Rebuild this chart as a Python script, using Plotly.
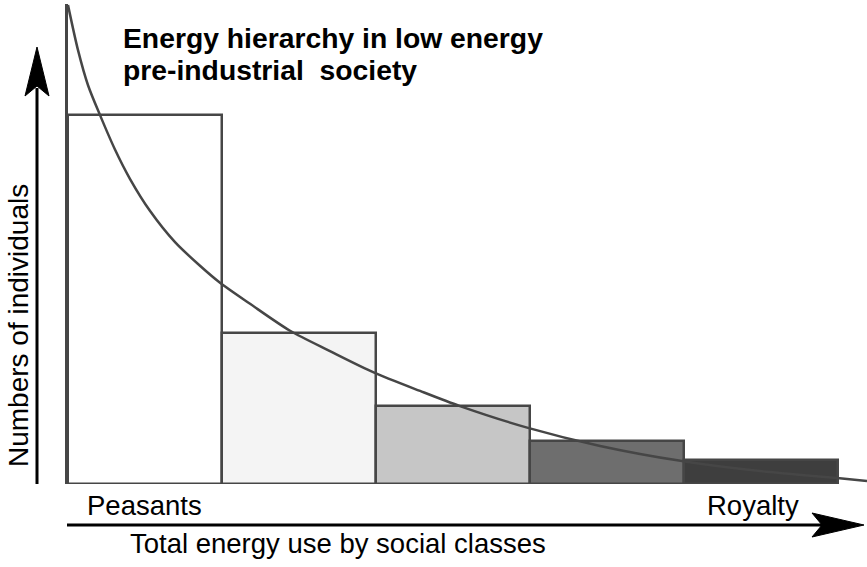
import plotly.graph_objects as go

# ---- data ----
classes = ["Peasants", "Class 2", "Class 3", "Class 4", "Royalty"]
class_pos = [0.5, 1.5, 2.5, 3.5, 4.5]
individuals = [100, 40.9, 21.1, 11.6, 6.5]
bar_colors = ["#ffffff", "#f4f4f4", "#c6c6c6", "#6e6e6e", "#3e3e3e"]

curve_x = [0.0, 0.065, 0.130, 0.208, 0.305, 0.403, 0.532, 0.695, 0.857, 0.987,
           1.182, 1.442, 1.701, 1.981, 2.286, 2.545, 2.987, 3.455, 3.987,
           4.494, 4.994, 5.188]
curve_y = [129.7, 117.5, 108.0, 99.9, 90.6, 82.6, 74.0, 65.5, 59.1, 54.5,
           48.8, 41.5, 36.0, 30.3, 25.2, 21.1, 15.2, 10.3, 6.2,
           3.5, 1.6, 0.8]

title_lines = ["Energy hierarchy in low energy", "pre-industrial  society"]
x_label = "Total energy use by social classes"
y_label = "Numbers of individuals"
left_label = "Peasants"
right_label = "Royalty"

# ---- layout geometry ----
W, H = 867, 567
ML, MR, MT, MB = 68, 0, 4, 83
PW, PH = W - ML - MR, H - MT - MB
X_MAX, Y_MAX = 5.188, 130

def px(x):
    return (x - ML) / PW

def py(y):
    return (H - MB - y) / PH

EDGE = "#464646"
FONT = "Liberation Sans, Arial, Helvetica, sans-serif"

fig = go.Figure()
fig.add_trace(go.Bar(
    x=class_pos, y=individuals, width=1,
    marker=dict(color=bar_colors, line=dict(color=EDGE, width=2.5)),
    hoverinfo="skip", showlegend=False,
))
fig.add_trace(go.Scatter(
    x=curve_x, y=curve_y, mode="lines",
    line=dict(color=EDGE, width=2.5, shape="spline", smoothing=0.8),
    hoverinfo="skip", showlegend=False,
))

# axis arrows (decoration)
shapes = []
shapes.append(dict(type="line", xref="paper", yref="paper",
                   x0=px(37), y0=py(484), x1=px(37), y1=py(88),
                   line=dict(color="black", width=3)))
shapes.append(dict(type="path", xref="paper", yref="paper",
                   path=f"M {px(37)} {py(47)} L {px(25)} {py(96)} L {px(37)} {py(86)} L {px(49)} {py(96)} Z",
                   fillcolor="black", line=dict(color="black", width=1)))
shapes.append(dict(type="line", xref="paper", yref="paper",
                   x0=px(67), y0=py(525), x1=px(822), y1=py(525),
                   line=dict(color="black", width=3)))
shapes.append(dict(type="path", xref="paper", yref="paper",
                   path=f"M {px(864)} {py(525)} L {px(812)} {py(513)} L {px(822)} {py(525)} L {px(812)} {py(537)} Z",
                   fillcolor="black", line=dict(color="black", width=1)))

ann = []
ann.append(dict(text=f"<b>{title_lines[0]}</b>", x=px(121), y=py(38), xref="paper", yref="paper",
                xanchor="left", yanchor="middle", showarrow=False,
                font=dict(family=FONT, size=28.3, color="black")))
ann.append(dict(text=f"<b>{title_lines[1]}</b>", x=px(121), y=py(70), xref="paper", yref="paper",
                xanchor="left", yanchor="middle", showarrow=False,
                font=dict(family=FONT, size=28.3, color="black")))
ann.append(dict(text=left_label, x=px(85), y=py(505), xref="paper", yref="paper",
                xanchor="left", yanchor="middle", showarrow=False,
                font=dict(family=FONT, size=27.5, color="black")))
ann.append(dict(text=right_label, x=px(801), y=py(505), xref="paper", yref="paper",
                xanchor="right", yanchor="middle", showarrow=False,
                font=dict(family=FONT, size=27.5, color="black")))
ann.append(dict(text=x_label, x=px(128), y=py(543), xref="paper", yref="paper",
                xanchor="left", yanchor="middle", showarrow=False,
                font=dict(family=FONT, size=27.5, color="black")))
ann.append(dict(text=y_label, x=px(18), y=py(326), xref="paper", yref="paper",
                xanchor="center", yanchor="middle", showarrow=False, textangle=-90,
                font=dict(family=FONT, size=28, color="black")))

fig.update_layout(
    width=W, height=H,
    margin=dict(l=ML, r=MR, t=MT, b=MB, pad=0),
    paper_bgcolor="white", plot_bgcolor="white",
    bargap=0,
    xaxis=dict(range=[0, X_MAX], showgrid=False, zeroline=False, showticklabels=False,
               ticks="", showline=False, fixedrange=True),
    yaxis=dict(range=[0, Y_MAX], showgrid=False, zeroline=False, showticklabels=False,
               ticks="", showline=True, linecolor=EDGE, linewidth=2.5, fixedrange=True),
    shapes=shapes, annotations=ann,
)

fig.write_html("out.html", config={"displayModeBar": False},
               post_script="document.body.style.margin='0';")
